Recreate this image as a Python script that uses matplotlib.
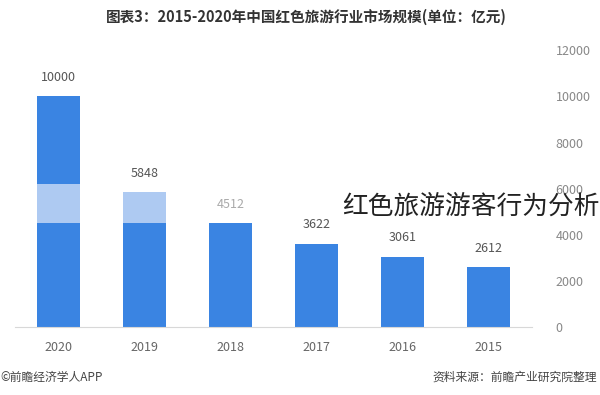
import matplotlib
matplotlib.use("Agg")
import matplotlib.pyplot as plt
import numpy as np

plt.rcParams['font.family'] = ['Noto Sans CJK SC', 'DejaVu Sans']

years = ['2020', '2019', '2018', '2017', '2016', '2015']
totals = [10000, 5848, 4512, 3622, 3061, 2612]
base_seg = [4512, 4512, 4512, 3622, 3061, 2612]
light_seg = [1688, 1336, 0, 0, 0, 0]
top_seg = [3800, 0, 0, 0, 0, 0]
yticks = [0, 2000, 4000, 6000, 8000, 10000, 12000]

dark = '#3a84e2'
light = '#aecaf2'

fig = plt.figure(figsize=(6, 3.95), dpi=100)
ax = fig.add_axes([0.025, 0.1709, 0.8617, 0.7025])

x = np.arange(len(years))
w = 0.5
ax.bar(x, base_seg, width=w, color=dark, zorder=2)
ax.bar(x, light_seg, width=w, bottom=base_seg, color=light, zorder=2)
b2 = np.array(base_seg) + np.array(light_seg)
ax.bar(x, top_seg, width=w, bottom=b2, color=dark, zorder=2)

label_colors = ['#555555', '#555555', '#aaaaaa', '#555555', '#555555', '#555555']
for xi, t, c in zip(x, totals, label_colors):
    ax.annotate(str(t), (xi, t), xytext=(0, 9), textcoords='offset points',
                ha='center', va='bottom', fontsize=9, color=c)

ax.set_xlim(-0.5, len(years) - 0.5)
ax.set_ylim(0, 12000)
ax.set_xticks(x)
ax.set_xticklabels(years, fontsize=9, color='#666666')
ax.set_yticks(yticks)
ax.set_yticklabels([str(v) for v in yticks], fontsize=9, color='#888888')
ax.yaxis.tick_right()
for lab in ax.get_yticklabels():
    lab.set_horizontalalignment('left')
ax.tick_params(axis='y', length=0, pad=17)
ax.tick_params(axis='x', length=0, pad=10)
for s in ['top', 'left', 'right']:
    ax.spines[s].set_visible(False)
ax.spines['bottom'].set_color('#d8d8d8')
ax.spines['bottom'].set_linewidth(0.8)

fig.text(306 / 600, 1 - 17 / 395, '图表3：2015-2020年中国红色旅游行业市场规模(单位：亿元)',
         ha='center', va='center', fontsize=10.5, fontweight='bold', color='#333333')

fig.text(342 / 600, 1 - 207 / 395, '红色旅游游客行为分析', ha='left', va='center',
         fontsize=18.5, fontweight='light', color='#222222')

fig.text(0.0, 1 - 377 / 395, '©前瞻经济学人APP', ha='left', va='center',
         fontsize=8.5, color='#444444')
fig.text(432 / 600, 1 - 377 / 395, '资料来源：前瞻产业研究院整理', ha='left', va='center',
         fontsize=8.5, color='#444444')

fig.savefig('out.png', dpi=100)
